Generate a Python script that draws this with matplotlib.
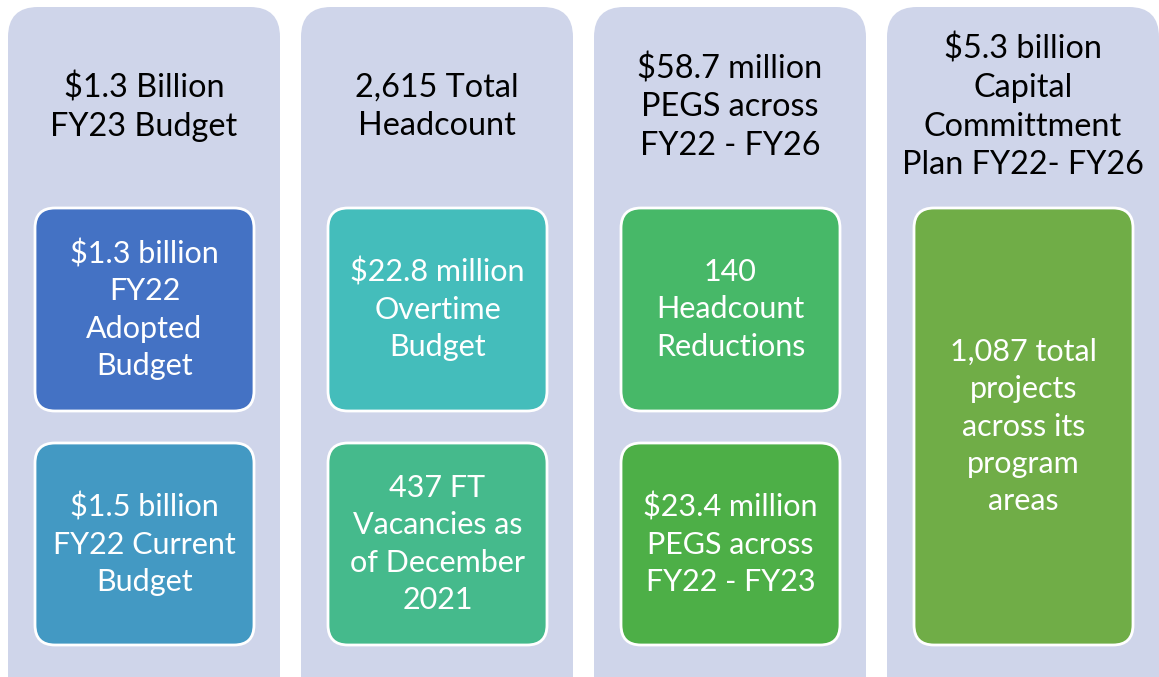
import matplotlib.pyplot as plt
from matplotlib.patches import FancyBboxPatch

# column headers and inner boxes
titles = ['$1.3 Billion\nFY23 Budget',
          '2,615 Total\nHeadcount',
          '$58.7 million\nPEGS across\nFY22 - FY26',
          '$5.3 billion\nCapital\nCommittment\nPlan FY22- FY26']
top_items = ['$1.3 billion\nFY22\nAdopted\nBudget',
             '$22.8 million\nOvertime\nBudget',
             '140\nHeadcount\nReductions',
             '1,087 total\nprojects\nacross its\nprogram\nareas']
bottom_items = ['$1.5 billion\nFY22 Current\nBudget',
                '437 FT\nVacancies as\nof December\n2021',
                '$23.4 million\nPEGS across\nFY22 - FY23',
                None]
top_colors = ['#4472C4', '#44BDBB', '#47B868', '#70AD47']
bottom_colors = ['#4399C3', '#45BA8C', '#4DAF47', None]

plt.rcParams['font.family'] = ['Lato', 'DejaVu Sans']
fig = plt.figure(figsize=(11.59, 6.77), dpi=100)
ax = fig.add_axes([0, 0, 1, 1])
ax.set_xlim(0, 1159)
ax.set_ylim(677, 0)
ax.axis('off')

col_x = [8, 301, 594, 887]
col_w = 272
for i in range(4):
    x0 = col_x[i]
    ax.add_patch(FancyBboxPatch((x0 + 30, 7 + 30), col_w - 60, 700 - 60,
                                boxstyle='round,pad=30', fc='#CFD5EA', ec='none'))
    ax.text(x0 + col_w / 2, 107, titles[i], ha='center', va='center',
            fontsize=23.3, color='black', linespacing=1.35)
    ix, iw = x0 + 27, 219
    if bottom_items[i] is None:
        boxes = [(208, 645, top_items[i], top_colors[i])]
    else:
        boxes = [(208, 411, top_items[i], top_colors[i]),
                 (443, 645, bottom_items[i], bottom_colors[i])]
    for y0, y1, txt, c in boxes:
        r = 20
        ax.add_patch(FancyBboxPatch((ix + r, y0 + r), iw - 2 * r, y1 - y0 - 2 * r,
                                    boxstyle='round,pad=%d' % r, fc=c,
                                    ec='white', lw=2))
        ax.text(ix + iw / 2, (y0 + y1) / 2, txt, ha='center', va='center',
                fontsize=22, color='white', linespacing=1.40)

fig.savefig('out.png', dpi=100)
